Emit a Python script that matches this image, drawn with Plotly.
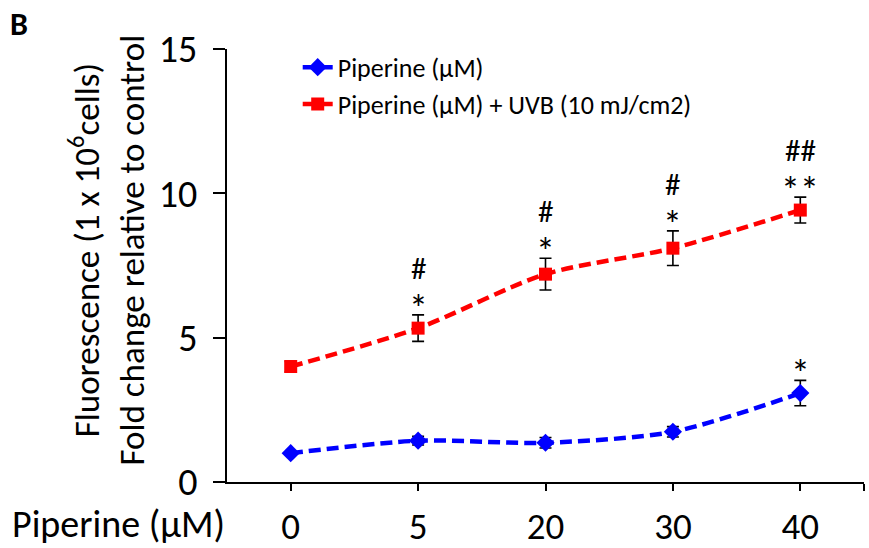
import plotly.graph_objects as go

# ---- data ----
categories = ["0", "5", "20", "30", "40"]
blue_mean = [1.00, 1.43, 1.36, 1.74, 3.08]
blue_err = [0.05, 0.15, 0.18, 0.18, 0.44]
red_mean = [4.00, 5.33, 7.20, 8.10, 9.42]
red_err = [0.18, 0.46, 0.55, 0.60, 0.45]
red_star = ["", "*", "*", "*", "**"]
red_hash = ["", "#", "#", "#", "##"]
blue_star = ["", "", "", "", "*"]
y_ticks = [0, 5, 10, 15]

FONT = "Carlito, Lato, sans-serif"
xpos = list(range(len(categories)))

fig = go.Figure()
fig.add_trace(go.Scatter(
    x=xpos, y=blue_mean, name="Piperine (µM)", legendgroup="a",
    mode="lines+markers",
    line=dict(color="#0000FF", width=4.5, dash="12px,6px", shape="spline", smoothing=0.8),
    marker=dict(symbol="diamond", size=14, color="#0000FF"),
    error_y=dict(type="data", array=blue_err, visible=True, color="black", thickness=1.6, width=6),
))
fig.add_trace(go.Scatter(
    x=xpos, y=red_mean, name="Piperine (µM) + UVB (10 mJ/cm2)", legendgroup="b",
    mode="lines+markers",
    line=dict(color="#FF0000", width=4.5, dash="12px,6px", shape="spline", smoothing=0.8),
    marker=dict(symbol="square", size=13, color="#FF0000"),
    error_y=dict(type="data", array=red_err, visible=True, color="black", thickness=1.6, width=6),
))

annotations = []
for i, c in enumerate(categories):
    top = red_mean[i] + red_err[i]
    if red_star[i]:
        annotations.append(dict(x=xpos[i], y=top, xref="x", yref="y", text=red_star[i],
                                showarrow=False, yanchor="middle", yshift=6,
                                font=dict(size=38, family=FONT, color="black")))
    if red_hash[i]:
        annotations.append(dict(x=xpos[i], y=top, xref="x", yref="y", text=red_hash[i],
                                showarrow=False, yanchor="middle", yshift=47,
                                font=dict(size=31, family=FONT, color="black")))
    if blue_star[i]:
        annotations.append(dict(x=xpos[i], y=blue_mean[i] + blue_err[i], xref="x", yref="y",
                                text=blue_star[i], showarrow=False, yanchor="middle", yshift=6,
                                font=dict(size=38, family=FONT, color="black")))

annotations.append(dict(x=-0.341, y=-0.097, xref="paper", yref="paper", text="Piperine (µM)",
                        showarrow=False, xanchor="left", yanchor="middle",
                        font=dict(size=38, family=FONT, color="black")))
annotations.append(dict(x=-0.188, y=0.535, xref="paper", yref="paper",
                        text="Fluorescence (1 x 10<sup>6</sup>cells)<br>Fold change relative to control",
                        showarrow=False, textangle=-90, xanchor="center", yanchor="middle",
                        font=dict(size=35, family=FONT, color="black")))
annotations.append(dict(x=-0.344, y=1.106, xref="paper", yref="paper", text="<b>B</b>",
                        showarrow=False, xanchor="left", yanchor="top",
                        font=dict(size=32, family=FONT, color="black")))

fig.update_layout(
    width=869, height=548,
    margin=dict(l=227, r=5, t=49, b=66),
    paper_bgcolor="white", plot_bgcolor="white",
    font=dict(family=FONT, color="black"),
    annotations=annotations,
    showlegend=True,
    legend=dict(x=0.111, y=1.012, xanchor="left", yanchor="top",
                font=dict(size=26, family=FONT, color="black"),
                bgcolor="rgba(0,0,0,0)", traceorder="grouped", tracegroupgap=0),
    xaxis=dict(range=[-0.5, 4.5], tickmode="array", automargin=False,
               tickvals=xpos + [4.5], ticktext=categories + [""],
               showline=True, linecolor="black", linewidth=2,
               ticks="outside", ticklen=7, tickwidth=2, tickcolor="black",
               showgrid=False, zeroline=False, ticklabelstandoff=4,
               tickfont=dict(size=37, family=FONT, color="black")),
    yaxis=dict(range=[0, 15], tickmode="array", tickvals=y_ticks, automargin=False,
               showline=True, linecolor="black", linewidth=2,
               ticks="outside", ticklen=12, tickwidth=2, tickcolor="black",
               showgrid=False, zeroline=False, ticklabelstandoff=8,
               tickfont=dict(size=38, family=FONT, color="black")),
)

fig.write_html("out.html")
